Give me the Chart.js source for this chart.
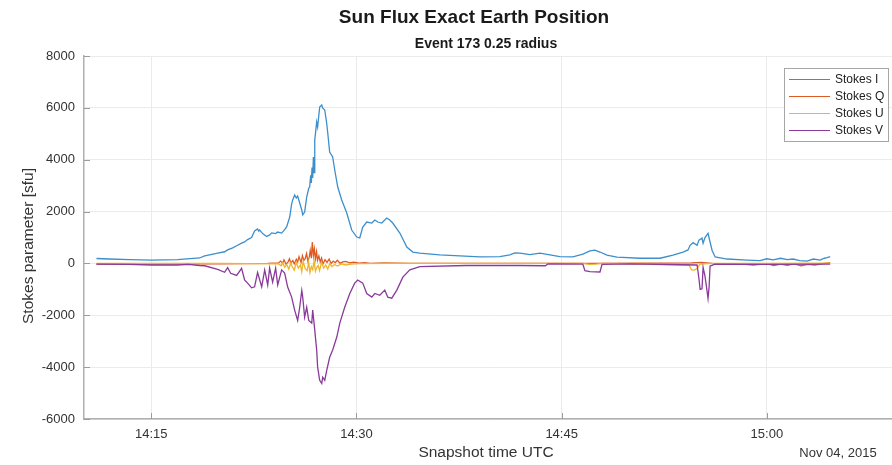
<!DOCTYPE html>
<html>
<head>
<meta charset="utf-8">
<title>Sun Flux Exact Earth Position</title>
<script src="https://cdn.jsdelivr.net/npm/chart.js@4.4.1/dist/chart.umd.min.js"></script>
<style>
  html, body { margin: 0; padding: 0; background: #ffffff; overflow: hidden; }
  #wrap { width: 892px; height: 465px; position: relative; }
</style>
</head>
<body>
<div id="wrap"><canvas id="chart" width="892" height="465"></canvas></div>
<script>
// Time axis is in minutes after 14:00 UTC, 04 Nov 2015. Values in sfu.

const seriesNames = ['Stokes I', 'Stokes Q', 'Stokes U', 'Stokes V'];

const iTime = [10.99, 11.95, 13.41, 15.02, 16.92, 18.53, 18.90, 19.26, 19.85, 20.36, 20.58, 20.95, 21.24, 21.60, 21.82,
  22.04, 22.33, 22.55, 22.77, 22.85, 22.92, 23.14, 23.43, 23.65, 23.80, 24.09, 24.24, 24.53, 24.75, 24.90,
  25.12, 25.26, 25.34, 25.48, 25.60, 25.70, 25.85, 26.00, 26.07, 26.21, 26.36, 26.51, 26.58, 26.65, 26.70,
  26.75, 26.80, 26.85, 26.90, 26.95, 27.02, 27.09, 27.16, 27.31, 27.46, 27.53, 27.68, 27.82, 27.90, 28.04,
  28.26, 28.41, 28.63, 28.92, 29.29, 29.65, 30.02, 30.24, 30.46, 30.75, 31.12, 31.34, 31.56, 31.85, 32.21,
  32.43, 32.65, 33.17, 33.68, 34.12, 34.63, 36.09, 37.56, 39.02, 40.48, 41.21, 41.58, 41.95, 42.68, 43.41,
  44.14, 44.87, 45.82, 46.55, 47.07, 47.43, 47.80, 48.31, 49.04, 50.73, 52.19, 53.14, 53.87, 54.24, 54.39,
  54.61, 54.90, 55.04, 55.26, 55.34, 55.48, 55.70, 55.78, 56.00, 56.22, 57.09, 58.56, 59.50, 60.00, 60.46,
  61.00, 61.50, 61.92, 62.40, 62.94, 63.40, 63.90, 64.20, 64.41, 64.63];
const iVals = [190, 170, 150, 130, 150, 210, 290, 330, 400, 450, 520, 600, 680, 780, 830,
  920, 1000, 1250, 1330, 1250, 1290, 1150, 1040, 1100, 1180, 1150, 1210, 1170, 1300, 1420,
  1790, 2300, 2450, 2640, 2520, 2600, 2330, 2060, 1870, 1980, 2560, 2900, 2950, 3400, 3100,
  3700, 3300, 4100, 3500, 4760, 5100, 5454, 5261, 6032, 6109, 5994, 5917, 5415, 5030, 4297,
  4104, 3603, 2947, 2445, 1944, 1288, 1018, 980, 1404, 1597, 1558, 1674, 1597, 1558, 1751,
  1674, 1558, 1172, 633, 440, 401, 330, 290, 250, 260, 330, 410, 400, 340, 400,
  330, 260, 250, 360, 480, 510, 440, 320, 240, 200, 200, 320, 440, 520, 700,
  800, 700, 900, 980, 780, 1000, 1160, 980, 500, 250, 170, 130, 110, 180, 140,
  200, 150, 170, 110, 90, 170, 130, 200, 220, 260];

const qTime = [10.99, 15.0, 20.0, 23.5, 24.3, 24.45, 24.6, 24.7, 24.85, 25.0, 25.1, 25.2, 25.35, 25.45, 25.6,
  25.7, 25.8, 25.95, 26.05, 26.15, 26.25, 26.35, 26.45, 26.55, 26.62, 26.7, 26.77, 26.85, 26.92, 27.0,
  27.08, 27.15, 27.25, 27.35, 27.45, 27.55, 27.7, 27.85, 28.0, 28.15, 28.3, 28.45, 28.6, 28.8, 29.0,
  29.2, 29.5, 29.8, 30.2, 30.6, 31.0, 32.0, 34.0, 40.0, 47.0, 54.5, 55.2, 56.0, 58.0, 59.0,
  60.0, 60.5, 61.0, 61.5, 62.0, 62.5, 63.0, 63.5, 64.0, 64.63];
const qVals = [-30, -30, -20, 0, 20, 90, 10, 140, -30, 60, 180, 20, 110, -20, 160,
  60, 260, 40, 300, 120, 180, 380, 90, 250, 500, 200, 820, 300, 560, 180,
  450, 120, 290, 60, 210, -20, 140, 40, 170, 0, 90, 30, 120, 10, 60,
  80, 20, 50, 10, 30, 0, 20, 0, 0, 0, 20, 40, 0, -20, -60,
  -10, -80, -30, -70, -20, -90, -40, -60, -20, 30];

const uTime = [10.99, 20.0, 24.3, 24.5, 24.6, 24.75, 24.9, 25.05, 25.2, 25.3, 25.45, 25.6, 25.75, 25.9, 26.0,
  26.1, 26.25, 26.4, 26.5, 26.6, 26.7, 26.8, 26.9, 27.0, 27.1, 27.2, 27.3, 27.45, 27.6, 27.75,
  27.9, 28.05, 28.2, 28.4, 28.6, 28.9, 29.2, 29.6, 30.2, 32.0, 40.0, 46.5, 47.0, 47.5, 48.0,
  54.3, 54.5, 54.7, 54.9, 55.1, 56.0, 60.0, 64.63];
const uVals = [0, 0, -20, -90, 30, -150, -40, -220, 20, -120, -260, 40, -180, -60, -320,
  80, -200, -280, 60, -350, -120, -240, 100, -300, -150, -80, -280, 50, -180, -60,
  -220, 0, -120, -40, -100, -20, -60, -30, -10, 0, 0, 0, -40, -30, 0,
  -60, -250, -260, -200, -30, 0, 0, 10];

const vTime = [10.99, 13.40, 15.00, 16.90, 17.70, 18.53, 18.90, 19.85, 20.36, 20.58, 20.80, 21.24, 21.60, 21.82, 22.04,
  22.33, 22.55, 22.77, 23.07, 23.29, 23.51, 23.65, 23.87, 24.09, 24.24, 24.53, 24.75, 24.97, 25.26, 25.48,
  25.70, 25.85, 26.00, 26.07, 26.21, 26.36, 26.51, 26.73, 26.80, 26.95, 27.09, 27.16, 27.31, 27.46, 27.53,
  27.68, 27.82, 28.04, 28.26, 28.56, 28.78, 29.14, 29.51, 29.87, 30.09, 30.46, 30.75, 31.12, 31.34, 31.70,
  32.07, 32.29, 32.58, 32.95, 33.39, 33.90, 34.63, 38.00, 42.00, 43.80, 44.00, 46.55, 46.70, 47.07, 47.80,
  47.95, 50.00, 54.90, 55.04, 55.12, 55.26, 55.34, 55.48, 55.56, 55.70, 55.78, 55.85, 56.20, 60.00, 64.63];
const vVals = [-30, -40, -60, -60, -40, -80, -90, -230, -340, -160, -380, -460, -190, -640, -760,
  -940, -900, -350, -900, -250, -830, -180, -720, -180, -830, -250, -370, -910, -1300, -1800,
  -2200, -1690, -1040, -1300, -2070, -1690, -2200, -2300, -1800, -2570, -3340, -4000, -4510, -4630, -4390,
  -4510, -4130, -3620, -3340, -2840, -2300, -1690, -1160, -760, -640, -760, -1160, -1300, -1160, -1230,
  -1030, -1300, -1340, -1030, -530, -250, -120, -80, -80, -90, -20, -30, -280, -320, -330,
  -40, -20, -60, -600, -1000, -980, -150, -500, -800, -1350, -900, -100, -30, -40, -30];

const xTickMinutes = [15, 30, 45, 60];
const yTickValues = [-6000, -4000, -2000, 0, 2000, 4000, 6000, 8000];

const lineColors = ['#3d8fcc', '#de5a24', '#efb42a', '#8a3a9b'];

const toPoints = (t, v) => t.map((x, k) => ({ x: x, y: v[k] }));
const clockLabel = m => {
  const h = 14 + Math.floor(m / 60);
  const mm = Math.round(m % 60);
  return h + ':' + String(mm).padStart(2, '0');
};

const FONT = '"Liberation Sans", Arial, Helvetica, sans-serif';

// Inward tick marks along the left and bottom axes.
const innerTicks = {
  id: 'innerTicks',
  afterDraw(chart) {
    const { ctx, chartArea: a, scales } = chart;
    ctx.save();
    ctx.strokeStyle = '#9c9c9c';
    ctx.lineWidth = 1;
    ctx.beginPath();
    scales.y.ticks.forEach(t => {
      const y = Math.round(scales.y.getPixelForValue(t.value)) + 0.5;
      ctx.moveTo(a.left, y);
      ctx.lineTo(a.left + 6, y);
    });
    scales.x.ticks.forEach(t => {
      const x = Math.round(scales.x.getPixelForValue(t.value)) + 0.5;
      ctx.moveTo(x, a.bottom);
      ctx.lineTo(x, a.bottom - 6);
    });
    ctx.stroke();
    ctx.restore();
  }
};

// Titles, axis labels, date stamp and the boxed legend.
const annotations = {
  id: 'annotations',
  afterDraw(chart) {
    const { ctx } = chart;
    ctx.save();
    ctx.fillStyle = '#1a1a1a';
    ctx.textBaseline = 'middle';
    ctx.textAlign = 'center';
    ctx.font = 'bold 19px ' + FONT;
    ctx.fillText('Sun Flux Exact Earth Position', 474, 18);
    ctx.font = 'bold 14px ' + FONT;
    ctx.fillText('Event 173 0.25 radius', 486, 44);

    ctx.fillStyle = '#333333';
    ctx.font = '15.5px ' + FONT;
    ctx.fillText('Snapshot time UTC', 486, 453);
    ctx.font = '13px ' + FONT;
    ctx.fillText('Nov 04, 2015', 838, 453);

    ctx.save();
    ctx.translate(29, 246);
    ctx.rotate(-Math.PI / 2);
    ctx.font = '15.5px ' + FONT;
    ctx.fillText('Stokes parameter [sfu]', 0, 0);
    ctx.restore();

    // legend box
    const bx = 784.5, by = 68.5, bw = 104, bh = 73;
    ctx.fillStyle = '#ffffff';
    ctx.fillRect(bx, by, bw, bh);
    ctx.strokeStyle = '#a6a6a6';
    ctx.lineWidth = 1;
    ctx.strokeRect(bx, by, bw, bh);
    ctx.textAlign = 'left';
    ctx.font = '12px ' + FONT;
    chart.data.datasets.forEach((ds, k) => {
      const y = 79 + k * 17;
      ctx.strokeStyle = ds.borderColor;
      ctx.lineWidth = 1.2;
      ctx.beginPath();
      ctx.moveTo(789, y + 0.5);
      ctx.lineTo(830, y + 0.5);
      ctx.stroke();
      ctx.fillStyle = '#222222';
      ctx.fillText(ds.label, 835, y + 1);
    });
    ctx.restore();
  }
};

const seriesTimes = [iTime, qTime, uTime, vTime];
const seriesValues = [iVals, qVals, uVals, vVals];
const drawOrder = [4, 3, 2, 1];

new Chart(document.getElementById('chart'), {
  type: 'line',
  data: {
    datasets: seriesNames.map((name, k) => ({
      label: name,
      data: toPoints(seriesTimes[k], seriesValues[k]),
      borderColor: lineColors[k],
      backgroundColor: lineColors[k],
      borderWidth: 1.3,
      pointRadius: 0,
      tension: 0,
      fill: false,
      order: drawOrder[k]
    }))
  },
  options: {
    responsive: false,
    devicePixelRatio: 1,
    animation: false,
    events: [],
    layout: { padding: { top: 56, left: 0, right: 0, bottom: 0 } },
    plugins: {
      legend: { display: false },
      title: { display: false },
      tooltip: { enabled: false }
    },
    scales: {
      x: {
        type: 'linear',
        min: 10.08,
        max: 69.15,
        afterBuildTicks: s => { s.ticks = xTickMinutes.map(v => ({ value: v })); },
        afterFit: s => { s.height = 46; },
        ticks: {
          callback: v => clockLabel(v),
          color: '#333333',
          font: { family: FONT, size: 13 },
          padding: 8,
          maxRotation: 0,
          autoSkip: false
        },
        grid: { color: '#ebebeb', lineWidth: 1, drawTicks: false },
        border: { color: '#b0b0b0', width: 1.5 }
      },
      y: {
        type: 'linear',
        min: -6000,
        max: 8000,
        afterBuildTicks: s => { s.ticks = yTickValues.map(v => ({ value: v })); },
        afterFit: s => { s.width = 84; },
        ticks: {
          callback: v => String(v),
          color: '#333333',
          font: { family: FONT, size: 13 },
          padding: 9
        },
        grid: { color: '#ebebeb', lineWidth: 1, drawTicks: false },
        border: { color: '#b0b0b0', width: 1.5 }
      }
    }
  },
  plugins: [innerTicks, annotations]
});
</script>
</body>
</html>
